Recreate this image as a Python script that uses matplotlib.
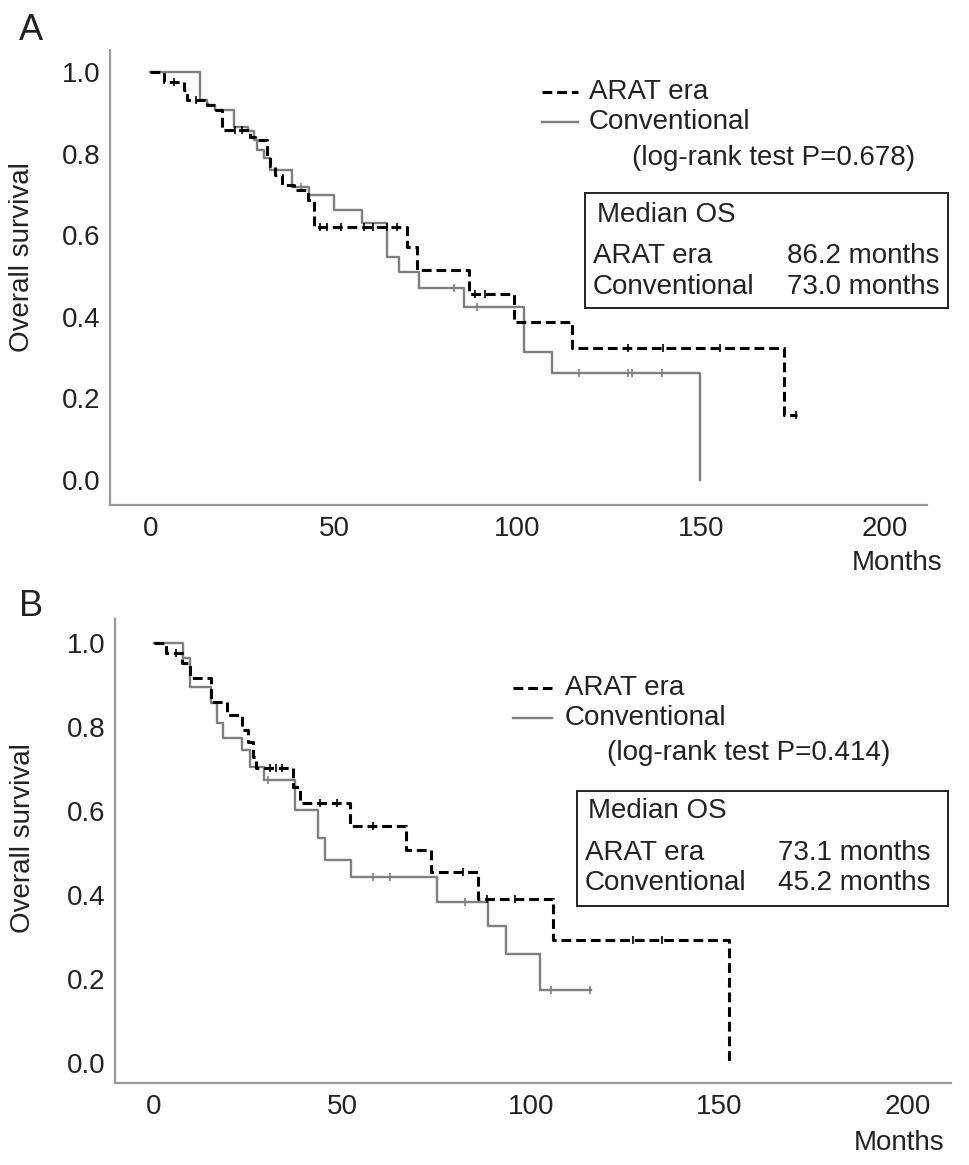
import matplotlib
matplotlib.use("Agg")
import matplotlib.pyplot as plt
import numpy as np
from matplotlib.lines import Line2D
from matplotlib.patches import Rectangle

plt.rcParams["font.family"] = ["Liberation Sans", "DejaVu Sans"]

# Panel A - Kaplan-Meier steps (time in months, survival after the step)
a_arat_t = [0, 3.6, 9.1, 10.0, 15.5, 18.0, 19.5, 27.0, 28.5, 31.7, 32.5, 33.8,
            35.9, 39.0, 43.0, 44.5, 69.9, 72.7, 86.7, 99.0, 114.9, 172.6]
a_arat_s = [1.0, 0.976, 0.956, 0.931, 0.919, 0.907, 0.858, 0.841, 0.833, 0.792,
            0.770, 0.748, 0.723, 0.711, 0.686, 0.621, 0.572, 0.515, 0.455, 0.388,
            0.324, 0.159]
a_arat_end = 176.0
a_arat_cens = [6.5, 12.5, 23.0, 25.0, 46.3, 48.0, 51.8, 58.1, 60.5, 64.5, 67.2,
               88.4, 91.1, 130.2, 139.7, 155.2, 175.8]

a_conv_t = [0, 13.6, 15.4, 17.7, 22.7, 26.7, 28.1, 29.0, 30.9, 32.7, 38.6, 43.1,
            49.9, 57.7, 64.5, 67.7, 73.1, 85.4, 101.7, 109.4, 149.7]
a_conv_s = [1.0, 0.931, 0.919, 0.907, 0.866, 0.855, 0.833, 0.809, 0.789, 0.760,
            0.719, 0.699, 0.662, 0.630, 0.547, 0.511, 0.470, 0.423, 0.315, 0.263, 0.0]
a_conv_end = 149.7
a_conv_cens = [41.0, 82.6, 89.0, 116.6, 130.2, 131.1, 139.3]

# Panel B
b_arat_t = [0, 3.3, 7.5, 9.5, 15.3, 19.3, 23.4, 24.9, 26.2, 27.1, 36.9, 38.7,
            52.0, 67.0, 73.6, 86.0, 105.9, 152.6]
b_arat_s = [1.0, 0.975, 0.952, 0.916, 0.860, 0.829, 0.793, 0.765, 0.729, 0.702,
            0.658, 0.618, 0.565, 0.507, 0.455, 0.390, 0.293, 0.0]
b_arat_end = 152.6
b_arat_cens = [6.0, 30.8, 32.5, 33.9, 44.0, 48.5, 58.1, 82.0, 88.3, 95.8, 127.0, 134.7]

b_conv_t = [0, 7.8, 9.5, 15.3, 16.8, 18.3, 23.4, 25.6, 29.1, 37.4, 43.5, 45.3,
            52.4, 75.0, 88.6, 93.5, 102.4]
b_conv_s = [1.0, 0.965, 0.896, 0.856, 0.810, 0.773, 0.745, 0.705, 0.674, 0.602,
            0.535, 0.483, 0.442, 0.384, 0.325, 0.260, 0.174]
b_conv_end = 116.1
b_conv_cens = [30.3, 58.1, 62.6, 82.5, 105.5, 115.8]

x_ticks = [0, 50, 100, 150, 200]
y_ticks = [0.0, 0.2, 0.4, 0.6, 0.8, 1.0]

a_p_text = "(log-rank test P=0.678)"
a_medians = ["86.2 months", "73.0 months"]
b_p_text = "(log-rank test P=0.414)"
b_medians = ["73.1 months", "45.2 months"]

W, H = 969, 1165
TXT = "#222222"
FS = 20
DASH = (0, (3.2, 1.6))


def fx(px):
    return px / W


def fy(py):
    return 1 - py / H


def px_box(left, top, right, bottom):
    return [fx(left), fy(bottom), (right - left) / W, (bottom - top) / H]


def km(ax, t, s, end, cens, **style):
    t = np.asarray(t)
    s = np.asarray(s)
    xs = np.append(t, end)
    ys = np.append(s, s[-1])
    ax.step(xs, ys, where="post", **style)
    # censor ticks sit on the curve level at that time
    idx = np.searchsorted(t, cens, side="right") - 1
    ax.plot(cens, s[idx], linestyle="none", marker="|", markersize=6,
            markeredgewidth=1.2, color=style["color"])


def panel(box, xlim, ylim, curves):
    ax = fig.add_axes(box)
    for data, style in curves:
        km(ax, *data, **style)
    ax.set_xlim(*xlim)
    ax.set_ylim(*ylim)
    ax.set_xticks(x_ticks)
    ax.set_yticks(y_ticks)
    ax.set_yticklabels([f"{v:.1f}" for v in y_ticks])
    ax.tick_params(length=0, labelsize=FS, labelcolor=TXT)
    ax.tick_params(axis="y", pad=7)
    ax.tick_params(axis="x", pad=8)
    for side in ["top", "right"]:
        ax.spines[side].set_visible(False)
    for side in ["left", "bottom"]:
        ax.spines[side].set_color("#999999")
        ax.spines[side].set_linewidth(1.6)
    return ax


def legend(x_line, y1, y2, x_text, x_p, y_p, p_text, box, x_head, y_head,
           x_rows, y_rows, x_val, medians):
    fig.add_artist(Line2D([fx(x_line[0]), fx(x_line[1])], [fy(y1)] * 2,
                          color="black", lw=2.2, linestyle=DASH))
    fig.add_artist(Line2D([fx(x_line[0]), fx(x_line[1])], [fy(y2)] * 2,
                          color="#7f7f7f", lw=1.7))
    fig.text(fx(x_text), fy(y1), "ARAT era", fontsize=FS, color=TXT, va="center")
    fig.text(fx(x_text), fy(y2), "Conventional", fontsize=FS, color=TXT, va="center")
    fig.text(fx(x_p), fy(y_p), p_text, fontsize=FS, color=TXT, va="center")

    left, top, right, bottom = box
    fig.add_artist(Rectangle((fx(left), fy(bottom)), (right - left) / W,
                             (bottom - top) / H, fill=False, edgecolor="#222222",
                             lw=1.4, transform=fig.transFigure))
    fig.text(fx(x_head), fy(y_head), "Median OS", fontsize=FS, color=TXT, va="center")
    for y, name, med in zip(y_rows, ["ARAT era", "Conventional"], medians):
        fig.text(fx(x_rows), fy(y), name, fontsize=FS, color=TXT, va="center")
        fig.text(fx(x_val), fy(y), med, fontsize=FS, color=TXT, va="center")


fig = plt.figure(figsize=(W / 100, H / 100), dpi=100)

arat_style = dict(color="black", linewidth=2.2, linestyle=DASH)
conv_style = dict(color="#7f7f7f", linewidth=1.7)

ax_a = panel(px_box(110, 50, 927, 505), (-11, 211.5), (-0.061, 1.054),
             [((a_conv_t, a_conv_s, a_conv_end, a_conv_cens), conv_style),
              ((a_arat_t, a_arat_s, a_arat_end, a_arat_cens), arat_style)])
ax_b = panel(px_box(115, 619, 951, 1083), (-10.3, 211.5), (-0.048, 1.057),
             [((b_conv_t, b_conv_s, b_conv_end, b_conv_cens), conv_style),
              ((b_arat_t, b_arat_s, b_arat_end, b_arat_cens), arat_style)])

for ax, lab_x, lab_y in [(ax_a, -0.092, 0.545), (ax_b, -0.0945, 0.528)]:
    ax.set_ylabel("Overall survival", fontsize=FS, color=TXT)
    ax.yaxis.set_label_coords(lab_x, lab_y)

fig.text(fx(852), fy(563), "Months", fontsize=FS, color=TXT, va="center")
fig.text(fx(854), fy(1143), "Months", fontsize=FS, color=TXT, va="center")
fig.text(fx(19), fy(30), "A", fontsize=26, color=TXT, va="center")
fig.text(fx(19), fy(606), "B", fontsize=26, color=TXT, va="center")

# Legend and median box, panel A
legend((542, 578), 92, 122, 589, 632, 158, a_p_text, (585, 193, 948, 308),
       597, 215, 593, (256, 287), 787, a_medians)

# Legend and median box, panel B
legend((513, 552), 688, 718, 565, 607, 753, b_p_text, (577, 791, 948, 906),
       588, 811, 585, (853, 883), 778, b_medians)

fig.savefig("out.png", dpi=100)
